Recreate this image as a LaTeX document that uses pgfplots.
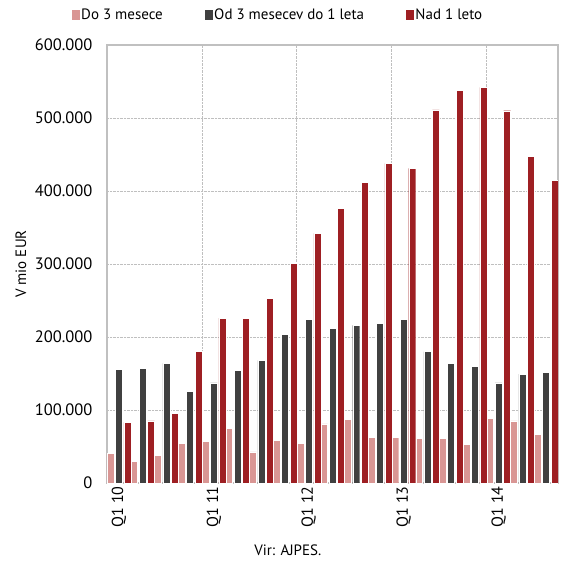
\documentclass[border=0pt]{standalone}
\usepackage{fontspec}
\setmainfont{PT Sans}
\usepackage{pgfplots}
\pgfplotsset{compat=1.18}

\definecolor{cpink}{RGB}{217,150,148}
\definecolor{cdark}{RGB}{64,64,64}
\definecolor{cred}{RGB}{158,31,35}
\definecolor{cframe}{RGB}{192,192,192}

\begin{document}
\begin{tikzpicture}
\begin{axis}[
    name=ax,
    font=\fontsize{15}{17}\selectfont,
    scale only axis,
    width=451pt, height=438pt,
    ybar,
    bar width=7pt,
    xmin=-0.5, xmax=18.5,
    ymin=0, ymax=600000,
    ytick={0,100000,...,600000},
    xtick={0,4,8,12,16},
    xticklabels={Q1 10,Q1 11,Q1 12,Q1 13,Q1 14},
    x tick label style={rotate=90, anchor=east, font=\fontsize{16}{18}\selectfont},
    y tick label style={font=\fontsize{16.5}{18}\selectfont, xshift=-11pt},
    extra x ticks={3.5,7.5,11.5,15.5},
    extra x tick labels={},
    extra x tick style={grid=major},
    ymajorgrids=true,
    grid style={densely dotted, color=gray!50, line width=0.8pt},
    major tick length=0pt,
    axis line style={cframe, line width=1.2pt},
    scaled y ticks=false,
    yticklabel style={/pgf/number format/.cd, fixed, precision=0, 1000 sep={.}, assume math mode=true},
    ylabel={V mio EUR},
    ylabel style={at={(axis description cs:-0.191,0.5)}, anchor=center},
    xlabel={Vir: AJPES.},
    xlabel style={at={(axis description cs:0.401,-0.153)}, anchor=center},
    legend columns=3,
    legend style={draw=none, fill=none, at={(0.377,1.0685)}, anchor=center,
        /tikz/every even column/.append style={column sep=40pt},
        nodes={inner sep=1pt},
        font=\fontsize{15}{17}\selectfont},
    legend image code/.code={\fill[#1] (0pt,-5pt) rectangle (9pt,6pt);},
]
\addplot[fill=cpink, draw=white, line width=0.4pt, bar shift=-8.5pt] coordinates {
(0,40700) (1,30000) (2,38000) (3,54000) (4,56600) (5,75000) (6,42500) (7,58500)
(8,54000) (9,81000) (10,87000) (11,63000) (12,63000) (13,61000) (14,61000)
(15,52500) (16,89000) (17,85000) (18,67000)
};
\addlegendentry{Do 3 mesece}
\addplot[fill=cdark, draw=white, line width=0.4pt, bar shift=0pt] coordinates {
(0,156000) (1,157500) (2,164000) (3,126000) (4,137000) (5,154000) (6,168000)
(7,204000) (8,224000) (9,212000) (10,216000) (11,219000) (12,224000) (13,180000)
(14,164000) (15,160000) (16,137000) (17,149000) (18,152000)
};
\addlegendentry{Od 3 mesecev do 1 leta}
\addplot[fill=cred, draw=white, line width=0.4pt, bar shift=8.5pt] coordinates {
(0,83000) (1,85000) (2,95000) (3,180000) (4,226000) (5,226000) (6,253000)
(7,301000) (8,342000) (9,376000) (10,412000) (11,438000) (12,431000) (13,511000)
(14,538000) (15,542000) (16,510000) (17,447000) (18,415000)
};
\addlegendentry{Nad 1 leto}
\end{axis}
\pgfresetboundingbox
\path ([xshift=-107pt,yshift=-77pt]ax.south west) rectangle ([xshift=3pt,yshift=45pt]ax.north east);
\end{tikzpicture}
\end{document}
